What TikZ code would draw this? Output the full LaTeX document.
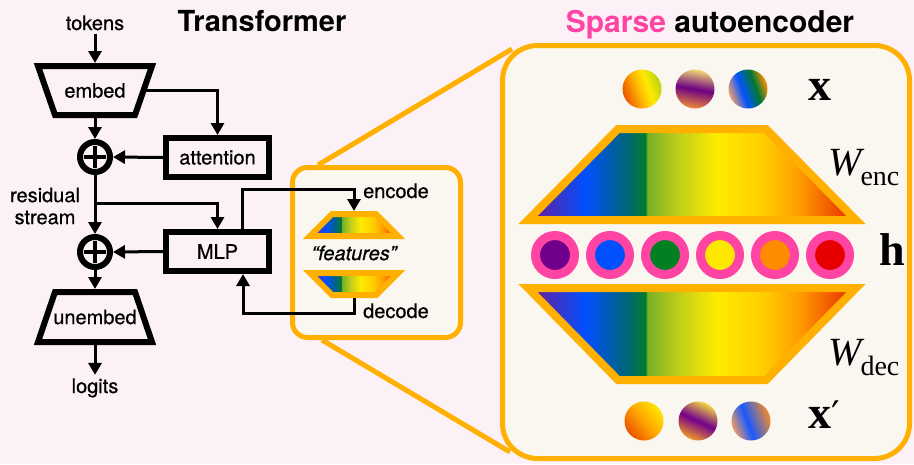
\documentclass[tikz,border=0pt]{standalone}
\usepackage{fontspec}
\setmainfont{TeX Gyre Heros}
\newfontfamily\medfont{TeX Gyre Heros}[FakeBold=0.6]
\newfontfamily\labserif{Liberation Serif}
\newfontfamily\primefont{DejaVu Serif}
\usetikzlibrary{arrows.meta}

\definecolor{bgpink}{RGB}{252,241,247}
\definecolor{cream}{RGB}{250,246,240}
\definecolor{saeor}{RGB}{255,176,0}
\definecolor{hotpink}{RGB}{255,68,164}
\definecolor{rpurple}{RGB}{95,35,165}
\definecolor{rblue}{RGB}{0,80,255}
\definecolor{rteal}{RGB}{0,100,125}
\definecolor{rgreen}{RGB}{0,125,45}
\definecolor{rygreen}{RGB}{120,175,40}
\definecolor{rlime}{RGB}{195,208,25}
\definecolor{ryellow}{RGB}{255,235,0}
\definecolor{rgold}{RGB}{255,205,0}
\definecolor{rorange}{RGB}{255,155,0}
\definecolor{rred}{RGB}{235,60,0}
\definecolor{hpurple}{RGB}{112,0,140}
\definecolor{hblue}{RGB}{0,80,255}
\definecolor{hgreen}{RGB}{0,128,32}
\definecolor{hyellow}{RGB}{255,232,0}
\definecolor{horange}{RGB}{255,140,0}
\definecolor{hred}{RGB}{230,0,0}

\pgfdeclarehorizontalshading{rainbow}{100bp}{color(0bp)=(rpurple); color(26.5bp)=(rpurple); color(33.8bp)=(rblue); color(39.8bp)=(rteal); color(42.9bp)=(rgreen); color(43.2bp)=(rygreen); color(48.2bp)=(rlime); color(53.8bp)=(ryellow); color(61bp)=(rgold); color(66.4bp)=(rorange); color(73.2bp)=(rred); color(100bp)=(rred)}
\pgfdeclarehorizontalshading{xonesh}{100bp}{rgb(0bp)=(.92,.33,0); rgb(25bp)=(.92,.33,0); rgb(45bp)=(1,.72,0); rgb(58bp)=(1,.92,0); rgb(75bp)=(.72,.82,.08); rgb(100bp)=(.72,.82,.08)}
\pgfdeclarehorizontalshading{xtwosh}{100bp}{rgb(0bp)=(.93,.55,.22); rgb(25bp)=(.93,.55,.22); rgb(50bp)=(.43,0,.52); rgb(75bp)=(.95,.85,.45); rgb(100bp)=(.95,.85,.45)}
\pgfdeclarehorizontalshading{xthreesh}{100bp}{rgb(0bp)=(.93,.62,.45); rgb(25bp)=(.93,.62,.45); rgb(42bp)=(0,.33,1); rgb(60bp)=(0,.47,.2); rgb(75bp)=(1,.57,0); rgb(100bp)=(1,.57,0)}
\pgfdeclarehorizontalshading{xponesh}{100bp}{rgb(0bp)=(.92,.33,0); rgb(25bp)=(.92,.33,0); rgb(50bp)=(1,.65,0); rgb(75bp)=(1,.9,0); rgb(100bp)=(1,.9,0)}
\pgfdeclarehorizontalshading{xptwosh}{100bp}{rgb(0bp)=(.95,.6,.15); rgb(25bp)=(.95,.6,.15); rgb(50bp)=(.45,0,.55); rgb(75bp)=(.95,.85,.25); rgb(100bp)=(.95,.85,.25)}
\pgfdeclarehorizontalshading{xpthreesh}{100bp}{rgb(0bp)=(.92,.6,.4); rgb(25bp)=(.92,.6,.4); rgb(45bp)=(.1,.35,1); rgb(75bp)=(.95,.55,.15); rgb(100bp)=(.95,.55,.15)}

\pgfdeclarelayer{back}
\pgfdeclarelayer{bg}
\pgfsetlayers{back,bg,main}

\newcommand\lblfont{\medfont\fontsize{20}{22}\selectfont}
\newcommand\xfont{\labserif\bfseries\fontsize{46}{46}\selectfont}
\newcommand\wfont{\labserif\fontsize{40}{40}\selectfont}
\newcommand\subfont{\labserif\fontsize{28}{28}\selectfont}

\begin{document}
\begin{tikzpicture}[x=1pt,y=-1pt,
  conn/.style={line width=3pt, -{Triangle[width=13pt,length=12pt]}},
  box/.style={draw, line width=6pt, minimum width=103pt, minimum height=39pt, inner sep=0pt, font=\lblfont},
  trapnode/.style={minimum width=114pt, minimum height=49pt, inner sep=0pt, outer sep=3pt, font=\lblfont},
  trapline/.style={line width=6pt, line join=miter},
  plus/.style={circle, draw, line width=6pt, minimum size=30pt, inner sep=0pt},
  plusbar/.style={line width=4pt},
  lbl/.style={font=\lblfont},
  txt/.style={font=\lblfont, inner sep=0pt},
  saetrap/.style={draw=saeor, line join=miter, shade, shading=rainbow},
  dot/.style={circle, minimum size=39pt, inner sep=0pt, shade},
  hring/.style={circle, draw=hotpink, line width=9pt, minimum size=39pt, inner sep=0pt},
  frame/.style={draw=saeor, fill=cream, line width=5pt, inner sep=0pt},
  zoomline/.style={saeor, line width=5pt}
]
\begin{pgfonlayer}{back}
\useasboundingbox (0,0) rectangle (914,464);
\fill[bgpink] (0,0) rectangle (914,464);
\end{pgfonlayer}

% titles
\node[anchor=base, font=\bfseries\fontsize{29}{34}\selectfont] (ttitle) at (262,31) {Transformer};
\node[anchor=base, font=\bfseries\fontsize{30}{36}\selectfont] (stitle) at (710,32) {\textcolor{hotpink}{Sparse} autoencoder};

% transformer column
\node[anchor=base, lbl] (tokens) at (95,30) {tokens};
\node[trapnode] (embed) at (95,90.5) {embed};
\draw[trapline] (38,66) -- (152,66) -- (135,115) -- (55,115) -- cycle;
\draw[conn] (tokens) -- (embed.north);

\node[plus] (p1) at (95,157) {};
\draw[plusbar] ([xshift=-11pt]p1.center) -- ([xshift=11pt]p1.center) ([yshift=-11pt]p1.center) -- ([yshift=11pt]p1.center);
\node[box] (att) at (217.5,157.5) {attention};
\coordinate (embout) at ([xshift=-12pt]embed.east);
\draw[conn] (embout) -| (att.north);
\draw[conn] (embed.south) -- (p1.north);
\draw[conn] (att.west) -- (p1.east);

\node[align=center, lbl] (resid) at (45,206) {residual\\stream};

\node[plus] (p2) at (95,252) {};
\draw[plusbar] ([xshift=-11pt]p2.center) -- ([xshift=11pt]p2.center) ([yshift=-11pt]p2.center) -- ([yshift=11pt]p2.center);
\node[box] (mlp) at (217.5,251.5) {MLP};
\draw[conn] (p1.south) -- (p2.north);
\coordinate (br) at (95,203);
\draw[conn] (br) -| (mlp.north);
\draw[conn] (mlp.west) -- (p2.east);

\node[trapnode, minimum height=50pt] (unembed) at (95,317) {unembed};
\draw[trapline] (55,292) -- (135,292) -- (152,342) -- (38,342) -- cycle;
\draw[conn] (p2.south) -- (unembed.north);
\node[anchor=base, lbl] (logits) at (95,393) {logits};
\draw[conn] (unembed.south) -- (logits.north);

% frames
\node[frame, rounded corners=15pt, minimum width=168pt, minimum height=170pt] (small) at (376.5,252.5) {};
\node[frame, rounded corners=35pt, minimum width=407pt, minimum height=413pt] (big) at (706,252) {};
\begin{pgfonlayer}{bg}
\draw[zoomline] ([xshift=28pt]small.north west) -- ([xshift=12pt,yshift=-6pt]big.north west);
\draw[zoomline] ([xshift=32pt]small.south west) -- ([xshift=10pt,yshift=9pt]big.south west);
\end{pgfonlayer}

% small SAE
\node[minimum width=88pt, minimum height=22pt, inner sep=0pt, outer sep=3pt] (senc) at (354,225) {};
\path[saetrap, line width=6pt] (332,214) -- (376,214) -- (398,236) -- (310,236) -- cycle;
\node[minimum width=88pt, minimum height=22pt, inner sep=0pt, outer sep=3pt] (sdec) at (354,284) {};
\path[saetrap, line width=6pt] (310,273) -- (398,273) -- (376,295) -- (332,295) -- cycle;
\node[lbl, font=\lblfont\itshape] (feat) at (354,253) {“features”};
\node[txt, anchor=base west] (enclbl) at (363,198) {encode};
\node[txt, anchor=base west] (declbl) at (363,318) {decode};
\draw[conn] ([xshift=24.5pt]mlp.north) -- ++(0,-40) -| (senc.north);
\draw[conn] (sdec.south) -- ++(0,15) -| ([xshift=25.5pt]mlp.south);

% big SAE
\node[dot, shading=xonesh, shading angle=20] (x1) at (642,89) {};
\node[dot, shading=xtwosh, shading angle=80] (x2) at (695,89) {};
\node[dot, shading=xthreesh, shading angle=20] (x3) at (748,89) {};
\node[anchor=base, inner sep=0pt, font=\xfont] (xlbl) at (819.5,100) {x};

\path[saetrap, line width=8pt] (618,129) -- (766,129) -- (856,220) -- (528,220) -- cycle;
\node[anchor=base west, inner sep=0pt, font=\wfont] (wenc) at (828,175) {\itshape W\kern-1pt\raisebox{-10pt}{\upshape\subfont enc}};

\node[hring, fill=hpurple] (h1) at (555,255) {};
\node[hring, fill=hblue] (h2) at (610,255) {};
\node[hring, fill=hgreen] (h3) at (665,255) {};
\node[hring, fill=hyellow] (h4) at (720,255) {};
\node[hring, fill=horange] (h5) at (775,255) {};
\node[hring, fill=hred] (h6) at (830,255) {};
\node[anchor=base, inner sep=0pt, font=\xfont] (hlbl) at (892,265) {h};

\path[saetrap, line width=8pt] (528,288) -- (856,288) -- (766,380) -- (618,380) -- cycle;
\node[anchor=base west, inner sep=0pt, font=\wfont] (wdec) at (828,365) {\itshape W\kern-1pt\raisebox{-10pt}{\upshape\subfont dec}};

\node[dot, shading=xponesh, shading angle=40] (xp1) at (644,421) {};
\node[dot, shading=xptwosh, shading angle=65] (xp2) at (698,421) {};
\node[dot, shading=xpthreesh, shading angle=20] (xp3) at (751,421) {};
\node[anchor=base west, inner sep=0pt, font=\xfont] (xplbl) at (808,428) {x{\primefont\mdseries\fontsize{38}{38}\selectfont ′}};
\end{tikzpicture}
\end{document}
